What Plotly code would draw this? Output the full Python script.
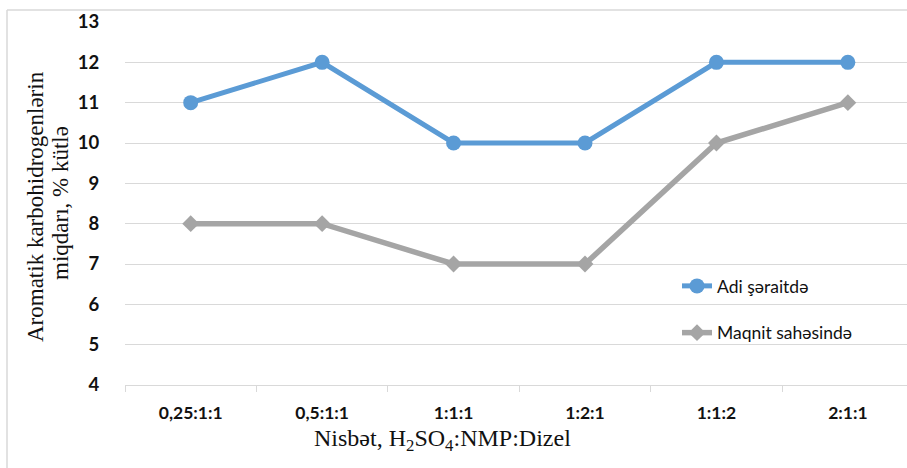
import plotly.graph_objects as go

# Ratio categories (H2SO4 : NMP : diesel)
categories = ["0,25:1:1", "0,5:1:1", "1:1:1", "1:2:1", "1:1:2", "2:1:1"]
# Aromatic hydrocarbon content, % mass
normal_conditions = [11, 12, 10, 10, 12, 12]
magnetic_field = [8, 8, 7, 7, 10, 11]
y_ticks = list(range(4, 14))

BLUE = "#5B9BD5"
GRAY = "#A5A5A5"
GRID = "#D9D9D9"
TEXT = "#111111"

# plot area in pixels: left 125, top 22, bottom 385, right 907
PL, PT, PB, PR = 125, 22, 385, 907
PW, PH = PR - PL, PB - PT


def px_x(x):
    return (x - PL) / PW


def px_y(y):
    return (PB - y) / PH


fig = go.Figure()
fig.add_trace(go.Scatter(
    x=categories, y=normal_conditions, mode="lines+markers",
    name="Adi şəraitdə", legendgroup="a",
    line=dict(color=BLUE, width=5),
    marker=dict(symbol="circle", size=15, color=BLUE),
))
fig.add_trace(go.Scatter(
    x=categories, y=magnetic_field, mode="lines+markers",
    name="Maqnit sahəsində", legendgroup="b",
    line=dict(color=GRAY, width=5.5),
    marker=dict(symbol="diamond", size=13, color=GRAY),
))

serif = "Liberation Serif, Times New Roman, serif"
sans = "Lato, Open Sans, sans-serif"

fig.update_layout(
    width=907, height=468,
    margin=dict(l=PL, r=0, t=PT, b=468 - PB),
    paper_bgcolor="white", plot_bgcolor="white",
    showlegend=True,
    legend=dict(
        x=px_x(677), y=px_y(268), xanchor="left", yanchor="top",
        bgcolor="rgba(0,0,0,0)",
        font=dict(family=sans, size=17.5, color=TEXT),
        traceorder="grouped", tracegroupgap=21,
    ),
    xaxis=dict(
        type="category", range=[-0.5, 5.45],
        showgrid=False, zeroline=False,
        showline=True, linecolor=GRID, linewidth=1,
        ticks="outside", tickson="boundaries", ticklen=6, tickcolor=GRID,
        tickfont=dict(family=sans, size=17.5, color=TEXT, weight="bold"),
        ticklabelstandoff=12,
    ),
    yaxis=dict(
        range=[4, 13], tickvals=y_ticks,
        showgrid=True, gridcolor=GRID, gridwidth=1,
        zeroline=False, showline=False,
        ticks="outside", ticklen=21, tickcolor="rgba(0,0,0,0)",
        tickfont=dict(family=sans, size=18.5, color=TEXT, weight="bold"),
    ),
    annotations=[
        dict(
            text="Aromatik karbohidrogenlərin",
            xref="paper", yref="paper",
            x=px_x(36), y=px_y(207),
            xanchor="center", yanchor="middle",
            textangle=-90, showarrow=False,
            font=dict(family=serif, size=23, color=TEXT),
        ),
        dict(
            text="miqdarı, % kütlə",
            xref="paper", yref="paper",
            x=px_x(60), y=px_y(203),
            xanchor="center", yanchor="middle",
            textangle=-90, showarrow=False,
            font=dict(family=serif, size=23, color=TEXT),
        ),
        dict(
            text="Nisbət, H<sub>2</sub>SO<sub>4</sub>:NMP:Dizel",
            xref="paper", yref="paper",
            x=px_x(442), y=px_y(440),
            xanchor="center", yanchor="middle",
            showarrow=False,
            font=dict(family=serif, size=24, color=TEXT),
        ),
    ],
    shapes=[
        dict(type="line", xref="paper", yref="paper",
             x0=px_x(7), x1=px_x(7), y0=px_y(10), y1=-0.3,
             line=dict(color=GRID, width=1.5)),
        dict(type="line", xref="paper", yref="paper",
             x0=px_x(7), x1=1.0, y0=px_y(10), y1=px_y(10),
             line=dict(color=GRID, width=1.5)),
    ],
)

fig.write_html("out.html")
